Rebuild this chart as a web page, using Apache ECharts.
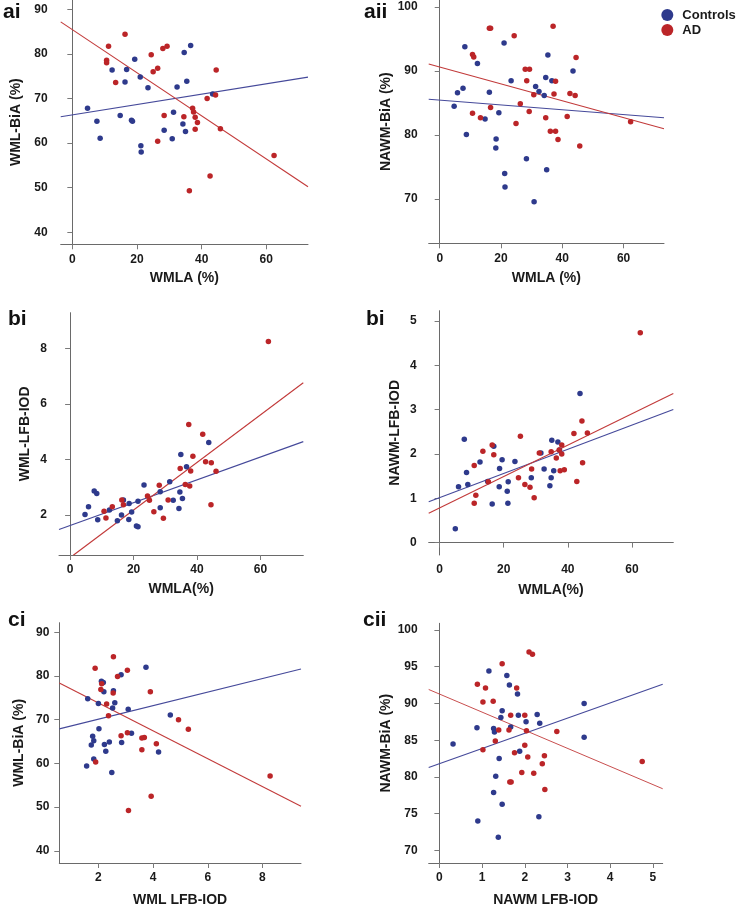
<!DOCTYPE html>
<html><head><meta charset="utf-8">
<script src="https://cdn.jsdelivr.net/npm/echarts@6/dist/echarts.min.js"></script>
<style>html,body{margin:0;padding:0;background:#fff}#c{width:740px;height:908px}</style>
</head><body><div id="c"></div>
<script>
// ---------- DATA ----------
// Panel ai: WMLA (%) vs WML-BiA (%)
const aiCtrlX = [4.7,7.6,8.6,12.3,14.8,16.3,16.8,18.3,18.6,19.3,21.0,21.2,21.3,23.4,28.4,30.9,31.3,32.4,34.2,34.6,35.0,35.4,36.6,43.4];
const aiCtrlY = [67.8,64.9,61.1,76.4,66.2,73.7,76.5,65.1,64.9,78.8,74.8,59.4,58.0,72.4,62.9,61.0,66.9,72.6,64.3,80.3,62.6,73.9,81.9,71.0];
const aiADX = [10.6,10.6,11.2,13.4,16.3,24.4,25.0,26.4,28.0,29.3,28.4,26.4,34.5,36.2,37.2,37.5,38.0,38.0,38.7,41.7,42.6,44.3,44.5,45.8,62.4];
const aiADY = [78.6,78.0,81.7,73.6,84.4,79.8,76.0,76.8,81.2,81.7,66.2,60.4,65.9,49.3,67.8,67.0,65.8,63.1,64.6,70.0,52.6,70.8,76.4,63.2,57.2];
const aiFitX = [-3.6, 72.9];
const aiFitCtrlY = [65.9, 74.8];
const aiFitADY = [87.2, 50.2];

// Panel aii: WMLA (%) vs NAWM-BiA (%)
const aiiCtrlX = [4.7,5.8,7.6,8.2,8.7,12.3,14.8,16.2,18.4,18.3,19.3,21.0,21.2,21.3,23.3,28.3,30.8,31.3,32.4,34.1,34.6,34.9,35.3,36.6,43.5];
const aiiCtrlY = [84.5,86.6,87.3,93.8,80.1,91.2,82.5,86.7,79.4,78.0,83.5,94.4,74.0,71.9,88.5,76.3,69.6,87.6,86.8,86.2,89.0,74.6,92.5,88.5,90.0];
const aiiADX = [10.7,10.7,11.1,13.3,16.2,16.6,16.6,24.3,24.9,26.3,27.9,28.4,29.2,29.3,30.7,34.6,36.1,37.0,37.3,37.8,37.8,38.6,41.6,42.5,44.2,44.5,45.7,62.3];
const aiiADY = [83.4,92.6,92.2,82.7,96.7,96.7,84.3,95.5,81.8,84.9,90.3,88.5,83.7,90.3,86.3,82.7,80.6,97.0,86.4,88.4,80.6,79.3,82.9,86.5,86.2,92.1,78.3,82.1];
const aiiFitX = [-3.6, 73.2];
const aiiFitCtrlY = [85.6, 82.7];
const aiiFitADY = [91.1, 81.0];

// Panel bi: WMLA (%) vs WML-LFB-IOD
const biCtrlX = [4.7,5.8,7.6,8.4,8.7,12.4,14.9,16.2,16.8,18.5,18.6,19.4,20.9,21.4,21.4,23.3,28.4,28.4,31.4,32.5,34.3,34.6,34.9,35.4,36.7,43.7];
const biCtrlY = [2.02,2.30,2.86,2.77,1.83,2.18,1.79,2.00,2.54,1.84,2.41,2.11,1.60,1.58,2.49,3.08,2.26,2.84,3.20,2.53,2.23,2.83,4.18,2.59,3.74,4.61];
const biADX = [10.7,11.3,13.3,16.3,16.8,24.4,25.0,26.4,28.1,29.4,30.9,34.7,36.3,37.4,37.7,38.0,38.7,41.8,42.7,44.5,44.4,46.0,62.5];
const biADY = [2.13,1.89,2.30,2.54,2.37,2.68,2.53,2.12,3.07,1.88,2.54,3.67,3.10,5.26,3.04,3.58,4.11,4.91,3.92,3.88,2.37,3.57,8.24];
const biFitCtrlX = [-3.5, 73.5];
const biFitCtrlY = [1.48, 4.64];
const biFitADX = [1.0, 73.5];
const biFitADY = [0.55, 6.76];

// Panel bii: WMLA (%) vs NAWM-LFB-IOD
const biiCtrlX = [4.9,5.9,7.7,8.4,8.8,12.6,15.0,16.4,16.9,18.6,18.7,19.5,21.1,21.4,21.3,23.5,28.6,31.6,32.6,34.4,34.8,35.0,35.6,36.9,37.4,43.8];
const biiCtrlY = [0.31,1.26,2.33,1.58,1.31,1.82,1.38,0.87,2.17,1.26,1.67,1.87,1.16,1.37,0.89,1.83,1.46,2.02,1.66,1.28,1.46,2.31,1.62,2.27,2.09,3.36];
const biiADX = [10.8,10.8,11.3,13.5,15.2,16.4,16.9,24.6,25.2,26.6,28.2,28.7,29.5,31.1,34.8,36.4,37.3,37.6,38.1,38.1,38.9,41.9,42.8,44.4,44.6,46.1,62.6];
const biiADY = [0.89,1.74,1.07,2.06,1.37,2.20,1.98,1.46,2.40,1.31,1.25,1.66,1.01,2.02,2.05,1.91,2.09,1.62,2.20,2.00,1.64,2.46,1.38,2.74,1.80,2.47,4.73];
const biiFitX = [-3.4, 72.9];
const biiFitCtrlY = [0.92, 3.0];
const biiFitADY = [0.66, 3.36];

// Panel ci: WML LFB-IOD vs WML-BiA (%)
const ciCtrlX = [1.57,1.61,1.74,1.79,1.83,1.83,2.00,2.02,2.11,2.18,2.20,2.22,2.27,2.40,2.49,2.52,2.55,2.60,2.83,2.85,3.09,3.21,3.74,4.20,4.63];
const ciCtrlY = [59.4,74.8,64.2,66.2,65.2,61.0,73.7,67.9,78.8,78.5,76.4,64.3,62.8,64.9,57.9,72.7,76.6,73.9,80.3,64.8,72.4,66.9,82.0,62.6,71.1];
const ciADX = [1.88,1.90,2.09,2.12,2.30,2.37,2.54,2.55,2.70,2.83,3.06,3.06,3.10,3.59,3.59,3.68,3.90,3.93,4.12,4.93,5.29,8.28];
const ciADY = [81.8,60.3,76.9,78.2,73.6,70.9,76.1,84.4,79.9,66.3,81.3,67.0,49.2,63.1,65.8,65.9,76.4,52.5,64.5,70.0,67.8,57.1];
const ciFitX = [0.57, 9.41];
const ciFitCtrlY = [67.9, 81.6];
const ciFitADY = [78.4, 50.2];

// Panel cii: NAWM LFB-IOD vs NAWM-BiA (%)
const ciiCtrlX = [0.32,0.88,0.90,1.16,1.27,1.29,1.27,1.32,1.38,1.40,1.44,1.47,1.47,1.58,1.64,1.67,1.83,1.85,1.88,2.03,2.29,2.33,2.35,3.39,3.39];
const ciiCtrlY = [84.5,86.7,74.0,94.4,86.6,86.1,77.9,80.1,71.8,82.5,88.1,89.0,76.3,93.8,92.5,86.8,91.3,88.4,83.5,87.5,88.5,74.6,87.3,90.0,85.4];
const ciiADX = [0.89,1.02,1.02,1.08,1.26,1.31,1.39,1.47,1.63,1.65,1.68,1.67,1.76,1.81,1.93,2.00,2.00,2.04,2.07,2.10,2.18,2.21,2.41,2.46,2.47,2.75,4.75];
const ciiADY = [92.6,83.7,90.2,92.1,90.3,84.9,86.4,95.4,86.4,79.3,79.3,88.4,83.3,92.1,80.6,88.4,84.3,86.3,82.7,97.0,96.7,80.5,81.8,82.9,78.3,86.2,82.1];
const ciiFitX = [-0.25, 5.23];
const ciiFitCtrlY = [81.3, 92.6];
const ciiFitADY = [91.9, 78.4];

// Tick labels
const ticksWMLA = [0, 20, 40, 60];
const ticksBiA = [40, 50, 60, 70, 80, 90];
const ticksNAWMBiA = [70, 80, 90, 100];
const ticksWMLLFB = [2, 4, 6, 8];
const ticksNAWMLFB = [0, 1, 2, 3, 4, 5];
const ticksNAWMBiA5 = [70, 75, 80, 85, 90, 95, 100];

// Panel names and axis titles
const panelLabels = ['ai', 'aii', 'bi', 'bi', 'ci', 'cii'];
const xNames = ['WMLA (%)', 'WMLA (%)', 'WMLA(%)', 'WMLA(%)', 'WML LFB-IOD', 'NAWM LFB-IOD'];
const yNames = ['WML-BiA (%)', 'NAWM-BiA (%)', 'WML-LFB-IOD', 'NAWM-LFB-IOD', 'WML-BiA (%)', 'NAWM-BiA (%)'];
const groups = ['Controls', 'AD'];

// ---------- BUILD ----------
const pairs = (xs, ys) => xs.map((x, i) => [x, ys[i]]);
const BLUE = '#2e3a8c', RED = '#bb2528';
const LBLUE = '#45499a', LRED = '#c23a3a';

const panels = [
  {ctrl: pairs(aiCtrlX, aiCtrlY), ad: pairs(aiADX, aiADY), fc: pairs(aiFitX, aiFitCtrlY), fa: pairs(aiFitX, aiFitADY),
   xr: [-3.6, 72.9], yr: [37.3, 92.1], xt: ticksWMLA, yt: ticksBiA,
   g: {left: 60.7, top: 0, width: 247.3, height: 244.3}, xg: 27, yg: 38, ym: 13, lab: [3, 2]},
  {ctrl: pairs(aiiCtrlX, aiiCtrlY), ad: pairs(aiiADX, aiiADY), fc: pairs(aiiFitX, aiiFitCtrlY), fa: pairs(aiiFitX, aiiFitADY),
   xr: [-3.6, 73.2], yr: [63.1, 101.1], xt: ticksWMLA, yt: ticksNAWMBiA,
   g: {left: 428.7, top: 0, width: 235.3, height: 243.3}, xg: 28, yg: 36, ym: 11, lab: [364, 2]},
  {ctrl: pairs(biCtrlX, biCtrlY), ad: pairs(biADX, biADY), fc: pairs(biFitCtrlX, biFitCtrlY), fa: pairs(biFitADX, biFitADY),
   xr: [-3.5, 73.5], yr: [0.56, 9.28], xt: ticksWMLA, yt: ticksWMLLFB,
   g: {left: 59, top: 312.7, width: 244.3, height: 242.3}, xg: 27, yg: 27, ym: 12, lab: [8, 309]},
  {ctrl: pairs(biiCtrlX, biiCtrlY), ad: pairs(biiADX, biiADY), fc: pairs(biiFitX, biiFitCtrlY), fa: pairs(biiFitX, biiFitADY),
   xr: [-3.4, 72.9], yr: [-0.28, 5.23], xt: ticksWMLA, yt: ticksNAWMLFB,
   g: {left: 428.7, top: 310.7, width: 244.6, height: 244.3}, xg: 28, yg: 27, ym: 12, lab: [366, 309]},
  {ctrl: pairs(ciCtrlX, ciCtrlY), ad: pairs(ciADX, ciADY), fc: pairs(ciFitX, ciFitCtrlY), fa: pairs(ciFitX, ciFitADY),
   xr: [0.57, 9.41], yr: [37.2, 92.2], xt: ticksWMLLFB, yt: ticksBiA,
   g: {left: 59.3, top: 622.7, width: 241.7, height: 244}, xg: 30, yg: 33, ym: 10, lab: [8, 610]},
  {ctrl: pairs(ciiCtrlX, ciiCtrlY), ad: pairs(ciiADX, ciiADY), fc: pairs(ciiFitX, ciiFitCtrlY), fa: pairs(ciiFitX, ciiFitADY),
   xr: [-0.25, 5.23], yr: [68.3, 100.9], xt: ticksNAWMLFB, yt: ticksNAWMBiA5,
   g: {left: 428.7, top: 623.3, width: 234, height: 243.4}, xg: 30, yg: 36, ym: 11, lab: [363, 610]}
];

const FONT = '"Liberation Sans", Arial, sans-serif';
const axisLine = {show: true, lineStyle: {color: '#6a6a6a', width: 1}};
const labelStyle = {color: '#1a1a1a', fontWeight: 'bold', fontSize: 12, fontFamily: FONT};
const nameStyle = {color: '#1a1a1a', fontWeight: 'bold', fontSize: 14, fontFamily: FONT};
const tickStyle = {color: '#7a7a7a', width: 1};

const option = {
  animation: false,
  backgroundColor: '#ffffff',
  title: panels.map((p, i) => ({
    text: panelLabels[i], left: p.lab[0], top: p.lab[1], padding: 0,
    textStyle: {color: '#111', fontWeight: 'bold', fontSize: 21, fontFamily: FONT}
  })),
  legend: {
    data: groups, orient: 'vertical', left: 661.3, top: 8.5, icon: 'circle',
    itemWidth: 20, itemHeight: 12, itemGap: 2, padding: 0,
    textStyle: {color: '#1a1a1a', fontWeight: 'bold', fontSize: 13, fontFamily: FONT}
  },
  grid: panels.map(p => Object.assign({containLabel: false}, p.g)),
  xAxis: panels.map((p, i) => ({
    type: 'value', gridIndex: i, min: p.xr[0], max: p.xr[1],
    name: xNames[i], nameLocation: 'middle', nameGap: p.xg, nameTextStyle: nameStyle,
    axisLine: axisLine, splitLine: {show: false},
    axisTick: {show: true, length: 5, lineStyle: tickStyle, customValues: p.xt},
    axisLabel: Object.assign({customValues: p.xt, margin: 9}, labelStyle)
  })),
  yAxis: panels.map((p, i) => ({
    type: 'value', gridIndex: i, min: p.yr[0], max: p.yr[1],
    name: yNames[i], nameLocation: 'middle', nameGap: p.yg, nameTextStyle: nameStyle,
    axisLine: axisLine, splitLine: {show: false},
    axisTick: {show: true, length: 5, lineStyle: tickStyle, customValues: p.yt},
    axisLabel: Object.assign({customValues: p.yt, margin: p.ym}, labelStyle)
  })),
  series: []
};

panels.forEach((p, i) => {
  option.series.push(
    {type: 'line', name: 'fitCtrl' + i, xAxisIndex: i, yAxisIndex: i, data: p.fc, showSymbol: false, symbol: 'none',
     lineStyle: {color: LBLUE, width: 1.1}, silent: true, z: 2},
    {type: 'line', name: 'fitAD' + i, xAxisIndex: i, yAxisIndex: i, data: p.fa, showSymbol: false, symbol: 'none',
     lineStyle: {color: LRED, width: i === 5 ? 0.9 : 1.1}, silent: true, z: 2},
    {type: 'scatter', name: groups[0], xAxisIndex: i, yAxisIndex: i, data: p.ctrl, symbolSize: 5.5,
     itemStyle: {color: BLUE, opacity: 1}, z: 3},
    {type: 'scatter', name: groups[1], xAxisIndex: i, yAxisIndex: i, data: p.ad, symbolSize: 5.5,
     itemStyle: {color: RED, opacity: 1}, z: 3}
  );
});

const chart = echarts.init(document.getElementById('c'), null, {renderer: 'canvas'});
chart.setOption(option);
</script>
</body></html>
